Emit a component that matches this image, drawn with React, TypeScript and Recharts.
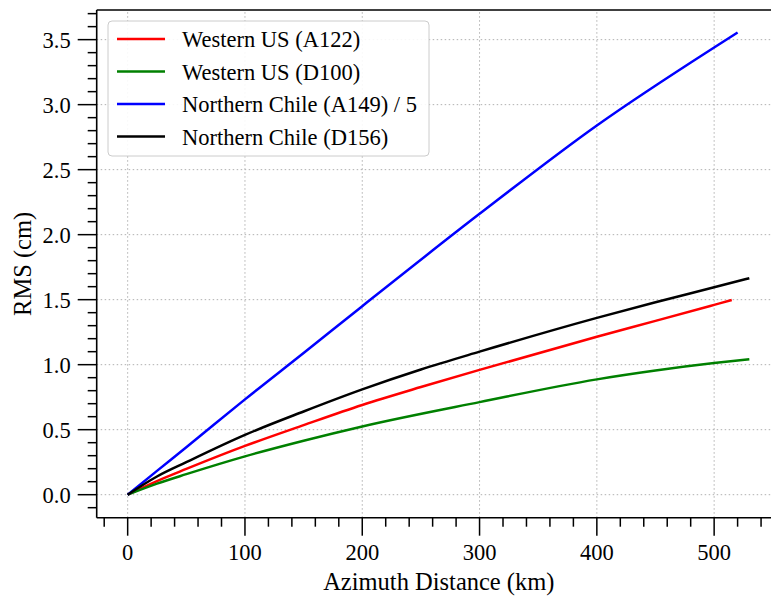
import { LineChart, Line, XAxis, YAxis, ReferenceLine } from "recharts";

const FONT = '"Liberation Serif", "Times New Roman", serif';

// distance (km) / RMS (cm)
const RED_X = [0, 25, 50, 100, 150, 200, 250, 300, 400, 450, 500, 515];
const RED_Y = [0, 0.105, 0.198, 0.375, 0.535, 0.69, 0.828, 0.96, 1.215, 1.337, 1.46, 1.497];

const GREEN_X = [0, 25, 50, 100, 150, 200, 300, 400, 450, 500, 530];
const GREEN_Y = [0, 0.085, 0.158, 0.295, 0.415, 0.525, 0.712, 0.887, 0.955, 1.012, 1.041];

const BLUE_X = [0, 25, 50, 100, 150, 200, 300, 400, 500, 520];
const BLUE_Y = [0, 0.183, 0.365, 0.733, 1.09, 1.45, 2.16, 2.84, 3.44, 3.555];

const BLACK_X = [0, 25, 50, 100, 150, 200, 250, 300, 400, 450, 500, 530];
const BLACK_Y = [0, 0.14, 0.25, 0.46, 0.64, 0.81, 0.963, 1.1, 1.36, 1.48, 1.595, 1.665];

const X_MAJOR = [0, 100, 200, 300, 400, 500];
const X_TICKS = [-20, 0, 20, 40, 60, 80, 100, 120, 140, 160, 180, 200, 220, 240, 260, 280, 300,
    320, 340, 360, 380, 400, 420, 440, 460, 480, 500, 520, 540];
const Y_MAJOR = [0, 0.5, 1, 1.5, 2, 2.5, 3, 3.5];
const Y_TICKS = [-0.1, 0, 0.1, 0.2, 0.3, 0.4, 0.5, 0.6, 0.7, 0.8, 0.9, 1, 1.1, 1.2, 1.3, 1.4, 1.5,
    1.6, 1.7, 1.8, 1.9, 2, 2.1, 2.2, 2.3, 2.4, 2.5, 2.6, 2.7, 2.8, 2.9, 3, 3.1, 3.2, 3.3, 3.4, 3.5,
    3.6, 3.7];

const X_DOMAIN = [-26.4, 557];
const Y_DOMAIN = [-0.177, 3.728];

const toPoints = (xs: number[], ys: number[]) => xs.map((x, i) => ({ x, y: ys[i] }));

const SERIES = [
    { name: "Western US (A122)", color: "#ff0000", data: toPoints(RED_X, RED_Y) },
    { name: "Western US (D100)", color: "#008000", data: toPoints(GREEN_X, GREEN_Y) },
    { name: "Northern Chile (A149) / 5", color: "#0000ff", data: toPoints(BLUE_X, BLUE_Y) },
    { name: "Northern Chile (D156)", color: "#000000", data: toPoints(BLACK_X, BLACK_Y) },
];

const XTick = (props: any) => {
    const { x, y, payload } = props;
    const v = payload.value;
    const major = X_MAJOR.includes(v);
    return (
        <g>
            <line x1={x} x2={x} y1={y} y2={y + (major ? 18 : 9)} stroke="#000" strokeWidth={1.5} />
            {major && (
                <text x={x} y={y + 42} textAnchor="middle" fontFamily={FONT} fontSize={22.5} fill="#000">
                    {v}
                </text>
            )}
        </g>
    );
};

const YTick = (props: any) => {
    const { x, y, payload } = props;
    const v = payload.value;
    const major = Y_MAJOR.some((m) => Math.abs(m - v) < 1e-6);
    return (
        <g>
            <line x1={x - (major ? 19 : 9)} x2={x} y1={y} y2={y} stroke="#000" strokeWidth={1.5} />
            {major && (
                <text x={x - 26} y={y + 8} textAnchor="end" fontFamily={FONT} fontSize={22.5} fill="#000">
                    {v.toFixed(1)}
                </text>
            )}
        </g>
    );
};

function ChartLegend() {
    return (
        <svg width={324} height={138} style={{ position: "absolute", left: 107, top: 20 }}>
            <rect x={1} y={1} width={321} height={135} rx={4} fill="#fff" fillOpacity={0.9} stroke="#cccccc" strokeWidth={1} />
            {SERIES.map((s, i) => {
                const cy = 19 + i * 32.5;
                return (
                    <g key={s.name}>
                        <line x1={10} x2={58} y1={cy} y2={cy} stroke={s.color} strokeWidth={2.5} />
                        <text x={75} y={cy + 8} fontFamily={FONT} fontSize={22.5} fill="#000">{s.name}</text>
                    </g>
                );
            })}
        </svg>
    );
}

export default function App() {
    return (
        <div style={{ position: "absolute", left: 0, top: 0, width: 771, height: 597, overflow: "hidden", background: "#fff" }}>
            <LineChart width={781} height={597} margin={{ top: 10, right: 0, left: 0, bottom: 0 }}>
                {X_MAJOR.map((v) => (
                    <ReferenceLine key={`gx${v}`} x={v} stroke="#b0b0b0" strokeWidth={1} strokeDasharray="1.5 2.5" />
                ))}
                {Y_MAJOR.map((v) => (
                    <ReferenceLine key={`gy${v}`} y={v} stroke="#b0b0b0" strokeWidth={1} strokeDasharray="1.5 2.5" />
                ))}
                <ReferenceLine y={Y_DOMAIN[1]} stroke="#000" strokeWidth={1.6} />
                <XAxis
                    type="number"
                    dataKey="x"
                    domain={X_DOMAIN}
                    allowDataOverflow
                    ticks={X_TICKS}
                    interval={0}
                    tick={<XTick />}
                    tickLine={false}
                    tickSize={0}
                    tickMargin={0}
                    axisLine={{ stroke: "#000", strokeWidth: 1.6 }}
                    height={79.3}
                    label={{
                        content: (p: any) => {
                            const vb = p.viewBox;
                            return (
                                <text x={vb.x + vb.width / 2} y={vb.y + 72} textAnchor="middle" fontFamily={FONT} fontSize={24.5} fill="#000">
                                    Azimuth Distance (km)
                                </text>
                            );
                        },
                    }}
                />
                <YAxis
                    type="number"
                    domain={Y_DOMAIN}
                    allowDataOverflow
                    ticks={Y_TICKS}
                    interval={0}
                    tick={<YTick />}
                    tickLine={false}
                    tickSize={0}
                    tickMargin={0}
                    axisLine={{ stroke: "#000", strokeWidth: 1.6 }}
                    width={96.7}
                    label={{
                        content: (p: any) => {
                            const vb = p.viewBox;
                            const cy = vb.y + vb.height / 2;
                            return (
                                <text x={31} y={cy} transform={`rotate(-90 31 ${cy})`} textAnchor="middle" fontFamily={FONT} fontSize={24.5} fill="#000">
                                    RMS (cm)
                                </text>
                            );
                        },
                    }}
                />
                {SERIES.map((s) => (
                    <Line
                        key={s.name}
                        data={s.data}
                        dataKey="y"
                        name={s.name}
                        type="monotone"
                        stroke={s.color}
                        strokeWidth={2.5}
                        dot={false}
                        activeDot={false}
                        isAnimationActive={false}
                    />
                ))}
            </LineChart>
            <ChartLegend />
        </div>
    );
}
